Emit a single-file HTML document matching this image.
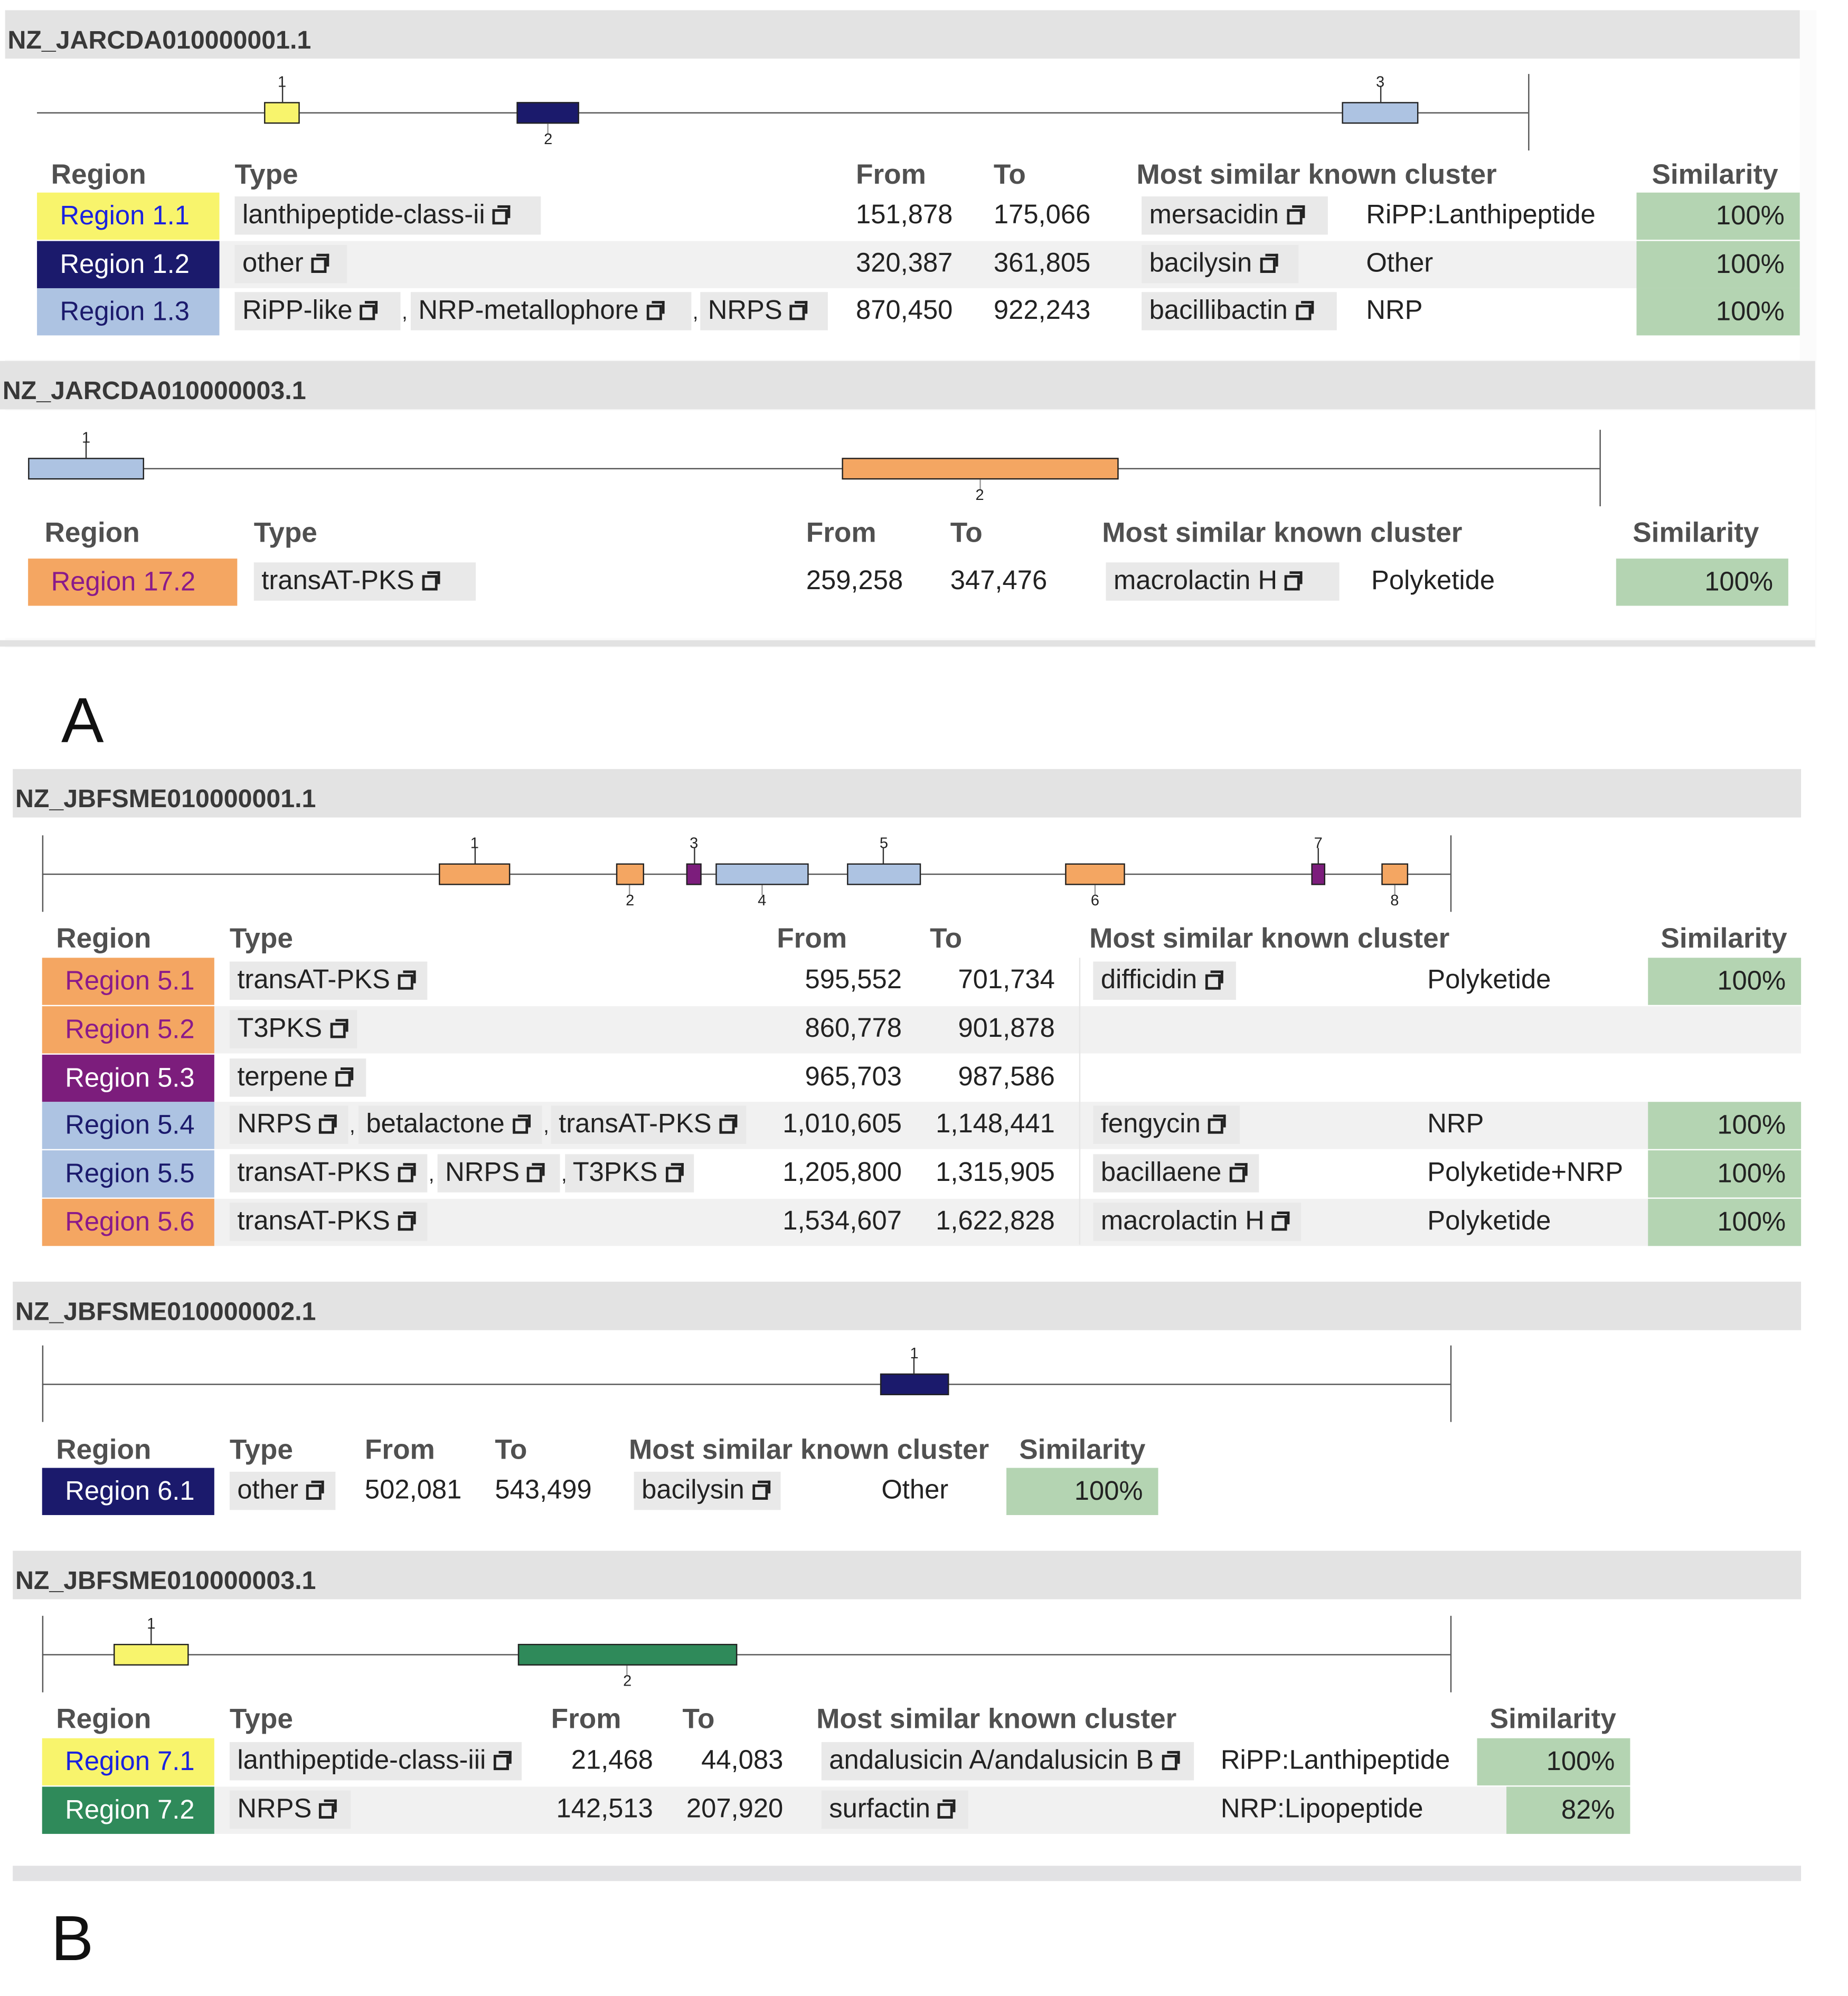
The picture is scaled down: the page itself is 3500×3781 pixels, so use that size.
<!DOCTYPE html>
<html><head><meta charset="utf-8">
<style>
html,body{margin:0;padding:0;background:#fff;}
body{width:3500px;height:3780px;overflow:hidden;position:relative;}
#root{position:absolute;left:0;top:0;width:1449px;height:1565px;transform:scale(2.4158);transform-origin:0 0;font-family:"Liberation Sans",sans-serif;}
#root div{position:absolute;box-sizing:border-box;white-space:nowrap;}
.t{font-size:21px;color:#222;line-height:28px;}
.h{font-size:22px;font-weight:bold;color:#505050;line-height:28px;}
.title{font-size:20px;font-weight:bold;color:#383838;line-height:24px;padding-left:2px;padding-top:12px;}
.chip{background:#e9e9e9;height:30px;padding:0 6px;}
.ico{display:inline-block;width:12px;height:12px;border:2px solid #222;margin-left:6px;position:relative;top:1px;box-sizing:border-box;}
.ico:after{content:"";position:absolute;right:-4px;top:-5px;width:8px;height:8px;border-top:2px solid #222;border-right:2px solid #222;background:transparent;}
</style></head><body>
<div id="root"></div>
<script>
// ---------- data ----------
const trackA1Names=["1","2","3"], trackA1Start=[151.9,320.4,870.5], trackA1End=[175.1,361.8,922.2], trackA1Len=995;
const trackA2Names=["1","2"], trackA2Start=[0,259.3], trackA2End=[37,347.5], trackA2Len=501;
const trackB1Names=["1","2","3","4","5","6","7","8"], trackB1Start=[1127,1630,1830,1913,2286,2906,3605,3804], trackB1End=[1330,1710,1873,2177,2496,3076,3645,3880], trackB1Len=4000;
const trackB2Names=["1"], trackB2Start=[476], trackB2End=[515], trackB2Len=800;
const trackB3Names=["1","2"], trackB3Start=[20.3,135], trackB3End=[41.7,197.5], trackB3Len=400;

const C={yellow:"#f8f46c",navy:"#1b1a6c",blue:"#adc3e2",orange:"#f4a662",purple:"#7c1d7c",green:"#2f8a5a"};
const root=document.getElementById('root');

function el(name,cls,x,y,w,h,css,text,inter){
  const e=document.createElement('div');
  
  
  if(cls)e.className=cls;
  e.style.left=x+'px';e.style.top=y+'px';
  if(w!=null)e.style.width=w+'px';
  if(h!=null)e.style.height=h+'px';
  if(css)e.style.cssText+=css;
  if(text!=null)e.innerHTML=text;
  root.appendChild(e);return e;
}
function icon(){return '<span class="ico"></span>';}

function track(prefix,names,starts,ends,len,x0,x1,y,colors,above,tickL,tickR){
  const sx=v=>x0+v/len*(x1-x0);
  el(prefix+'-backbone',null,x0,y-0.5,x1-x0,1.3,'background:#555;');
  if(tickL)el(prefix+'-start-tick',null,x0-0.5,y-30,1.3,60,'background:#555;');
  if(tickR)el(prefix+'-end-tick',null,x1-0.5,y-30,1.3,60,'background:#555;');
  for(let i=0;i<names.length;i++){
    const a=sx(starts[i]),b=sx(ends[i]);
    el(prefix+'-region-'+names[i],null,a,y-8,b-a,17,'background:'+colors[i]+';border:1.5px solid #222;',null,true);
    const cx=(a+b)/2;
    if(above[i]){
      el(prefix+'-stem-'+names[i],null,cx-0.5,y-20,1,12,'background:#333;');
      el(prefix+'-label-'+names[i],null,cx-10,y-30,20,12,'font-size:12px;line-height:12px;text-align:center;color:#222;',names[i]);
    }else{
      el(prefix+'-stem-'+names[i],null,cx-0.5,y+9,1,8,'background:#999;');
      el(prefix+'-label-'+names[i],null,cx-10,y+15,20,12,'font-size:12px;line-height:12px;text-align:center;color:#222;',names[i]);
    }
  }
}

function header(name,x,y,w,text){el(name,'title',x,y,w,38,'background:#e3e3e3;',text);}

function heads(prefix,y,cols){
  const labels=["Region","Type","From","To","Most similar known cluster","Similarity"];
  cols.forEach((x,i)=>el(prefix+'-header-'+labels[i].toLowerCase().split(' ')[0],'h',x,y-14,null,28,null,labels[i]));
}
function row(prefix,r){
  const y=r.y,h=37,top=y-h/2;
  if(r.stripe)el(prefix+'-stripe',null,r.stripe[0],top,r.stripe[1],h,'background:#f1f1f1;');
  el(prefix+'-region-cell','t',r.reg[0],top,r.reg[1],h,'background:'+r.reg[2]+';color:'+r.reg[3]+';line-height:37px;padding-left:18px;',r.reg[4],true);
  r.types.forEach((t,i)=>{
    el(prefix+'-type-chip-'+i,'t chip',t[0],y-15,t[1],30,'line-height:30px;',t[2]+icon(),true);
    if(i<r.types.length-1)el(prefix+'-type-sep-'+i,'t',t[0]+t[1]+1,y-12,8,28,'font-size:16px;',',');
  });
  const num=(n,v)=>{ if(v[2]==='r')el(prefix+'-'+n,'t',v[0]-130,y-14,130,28,'text-align:right;',v[1]); else el(prefix+'-'+n,'t',v[0],y-14,null,28,null,v[1]); };
  num('from',r.from);num('to',r.to);
  if(r.clus)el(prefix+'-cluster-chip','t chip',r.clus[0],y-15,r.clus[1],30,'line-height:30px;',r.clus[2]+icon(),true);
  if(r.cls)el(prefix+'-cluster-class','t',r.cls[0],y-14,null,28,null,r.cls[1]);
  if(r.sim)el(prefix+'-similarity','t',r.sim[0],top,r.sim[1],h,'background:#b4d4b2;text-align:right;padding-right:12px;line-height:37px;',r.sim[2]);
}

// ---------- Panel A ----------
el('panel-a-background',null,4,8,1420,500,'background:#fbfbfb;');
header('contig-header-jarcda01',4,8,1407,'NZ_JARCDA010000001.1');
el('panel-a1-body',null,4,46,1407,236,'background:#fff;');
track('track-a1',trackA1Names,trackA1Start,trackA1End,trackA1Len,29,1198,88,[C.yellow,C.navy,C.blue],[true,false,true],false,true);
heads('table-a1',137,[40,184,671,779,891,1295]);
row('row-region-1-1',{y:169,reg:[29,143,C.yellow,'#1a22e0','Region 1.1'],types:[[184,240,'lanthipeptide-class-ii']],from:[671,'151,878'],to:[779,'175,066'],clus:[895,146,'mersacidin'],cls:[1071,'RiPP:Lanthipeptide'],sim:[1283,128,'100%']});
row('row-region-1-2',{y:207,stripe:[172,1111],reg:[29,143,C.navy,'#fff','Region 1.2'],types:[[184,88,'other']],from:[671,'320,387'],to:[779,'361,805'],clus:[895,123,'bacilysin'],cls:[1071,'Other'],sim:[1283,128,'100%']});
row('row-region-1-3',{y:244,reg:[29,143,C.blue,'#1b1a6c','Region 1.3'],types:[[184,130,'RiPP-like'],[322,220,'NRP-metallophore'],[549,100,'NRPS']],from:[671,'870,450'],to:[779,'922,243'],clus:[895,153,'bacillibactin'],cls:[1071,'NRP'],sim:[1283,128,'100%']});

header('contig-header-jarcda03',0,283,1423,'NZ_JARCDA010000003.1');
el('panel-a2-body',null,4,322,1419,178,'background:#fff;');
track('track-a2',trackA2Names,trackA2Start,trackA2End,trackA2Len,22,1254,367,[C.blue,C.orange],[true,false],false,true);
heads('table-a2',418,[35,199,632,745,864,1280]);
row('row-region-17-2',{y:456,reg:[22,164,C.orange,'#8a1a8a','Region 17.2'],types:[[199,174,'transAT-PKS']],from:[632,'259,258'],to:[745,'347,476'],clus:[867,183,'macrolactin H'],cls:[1075,'Polyketide'],sim:[1267,135,'100%']});
el('panel-a-bottom-rule',null,0,502,1423,5,'background:#e2e2e2;');
el('panel-label-a',null,48,535,null,60,'font-size:50px;line-height:60px;color:#111;','A');

// ---------- Panel B ----------
header('contig-header-jbfsme01',10,603,1402,'NZ_JBFSME010000001.1');
track('track-b1',trackB1Names,trackB1Start,trackB1End,trackB1Len,33,1137,685,[C.orange,C.orange,C.purple,C.blue,C.blue,C.orange,C.purple,C.orange],[true,false,true,false,true,false,true,false],true,true);
heads('table-b1',736,[44,180,609,729,854,1302]);
const B1=[
 ['5-1',769,C.orange,'#8a1a8a',[[180,155,'transAT-PKS']],'595,552','701,734',[857,112,'difficidin'],'Polyketide',true,false],
 ['5-2',807,C.orange,'#8a1a8a',[[180,100,'T3PKS']],'860,778','901,878',null,null,false,true],
 ['5-3',845,C.purple,'#fff',[[180,107,'terpene']],'965,703','987,586',null,null,false,false],
 ['5-4',882,C.blue,'#1b1a6c',[[180,93,'NRPS'],[281,144,'betalactone'],[432,153,'transAT-PKS']],'1,010,605','1,148,441',[857,115,'fengycin'],'NRP',true,true],
 ['5-5',920,C.blue,'#1b1a6c',[[180,155,'transAT-PKS'],[343,96,'NRPS'],[443,101,'T3PKS']],'1,205,800','1,315,905',[857,130,'bacillaene'],'Polyketide+NRP',true,false],
 ['5-6',958,C.orange,'#8a1a8a',[[180,155,'transAT-PKS']],'1,534,607','1,622,828',[857,163,'macrolactin H'],'Polyketide',true,true]
];
B1.forEach(r=>row('row-region-'+r[0],{y:r[1],stripe:r[10]?[168,1244]:null,reg:[33,135,r[2],r[3],'Region '+r[0].replace('-','.')],types:r[4],from:[707,r[5],'r'],to:[827,r[6],'r'],clus:r[7],cls:r[8]?[1119,r[8]]:null,sim:r[9]?[1292,120,'100%']:null}));
el('table-b1-divider',null,846,751,1,225,'background:#e6e6e6;');

header('contig-header-jbfsme02',10,1005,1402,'NZ_JBFSME010000002.1');
track('track-b2',trackB2Names,trackB2Start,trackB2End,trackB2Len,33,1137,1085,[C.navy],[true],true,true);
heads('table-b2',1137,[44,180,286,388,493,799]);
row('row-region-6-1',{y:1169,reg:[33,135,C.navy,'#fff','Region 6.1'],types:[[180,83,'other']],from:[286,'502,081'],to:[388,'543,499'],clus:[497,115,'bacilysin'],cls:[691,'Other'],sim:[789,119,'100%']});

header('contig-header-jbfsme03',10,1216,1402,'NZ_JBFSME010000003.1');
track('track-b3',trackB3Names,trackB3Start,trackB3End,trackB3Len,33,1137,1297,[C.yellow,C.green],[true,false],true,true);
heads('table-b3',1348,[44,180,432,535,640,1168]);
row('row-region-7-1',{y:1381,reg:[33,135,C.yellow,'#1a22e0','Region 7.1'],types:[[180,229,'lanthipeptide-class-iii']],from:[512,'21,468','r'],to:[614,'44,083','r'],clus:[644,292,'andalusicin A/andalusicin B'],cls:[957,'RiPP:Lanthipeptide'],sim:[1158,120,'100%']});
row('row-region-7-2',{y:1419,stripe:[168,1013],reg:[33,135,C.green,'#fff','Region 7.2'],types:[[180,95,'NRPS']],from:[512,'142,513','r'],to:[614,'207,920','r'],clus:[644,115,'surfactin'],cls:[957,'NRP:Lipopeptide'],sim:[1181,97,'82%']});
el('panel-b-bottom-rule',null,10,1463,1402,12,'background:#e2e2e4;');
el('panel-label-b',null,40,1490,null,60,'font-size:50px;line-height:60px;color:#111;','B');
</script>
</body></html>
